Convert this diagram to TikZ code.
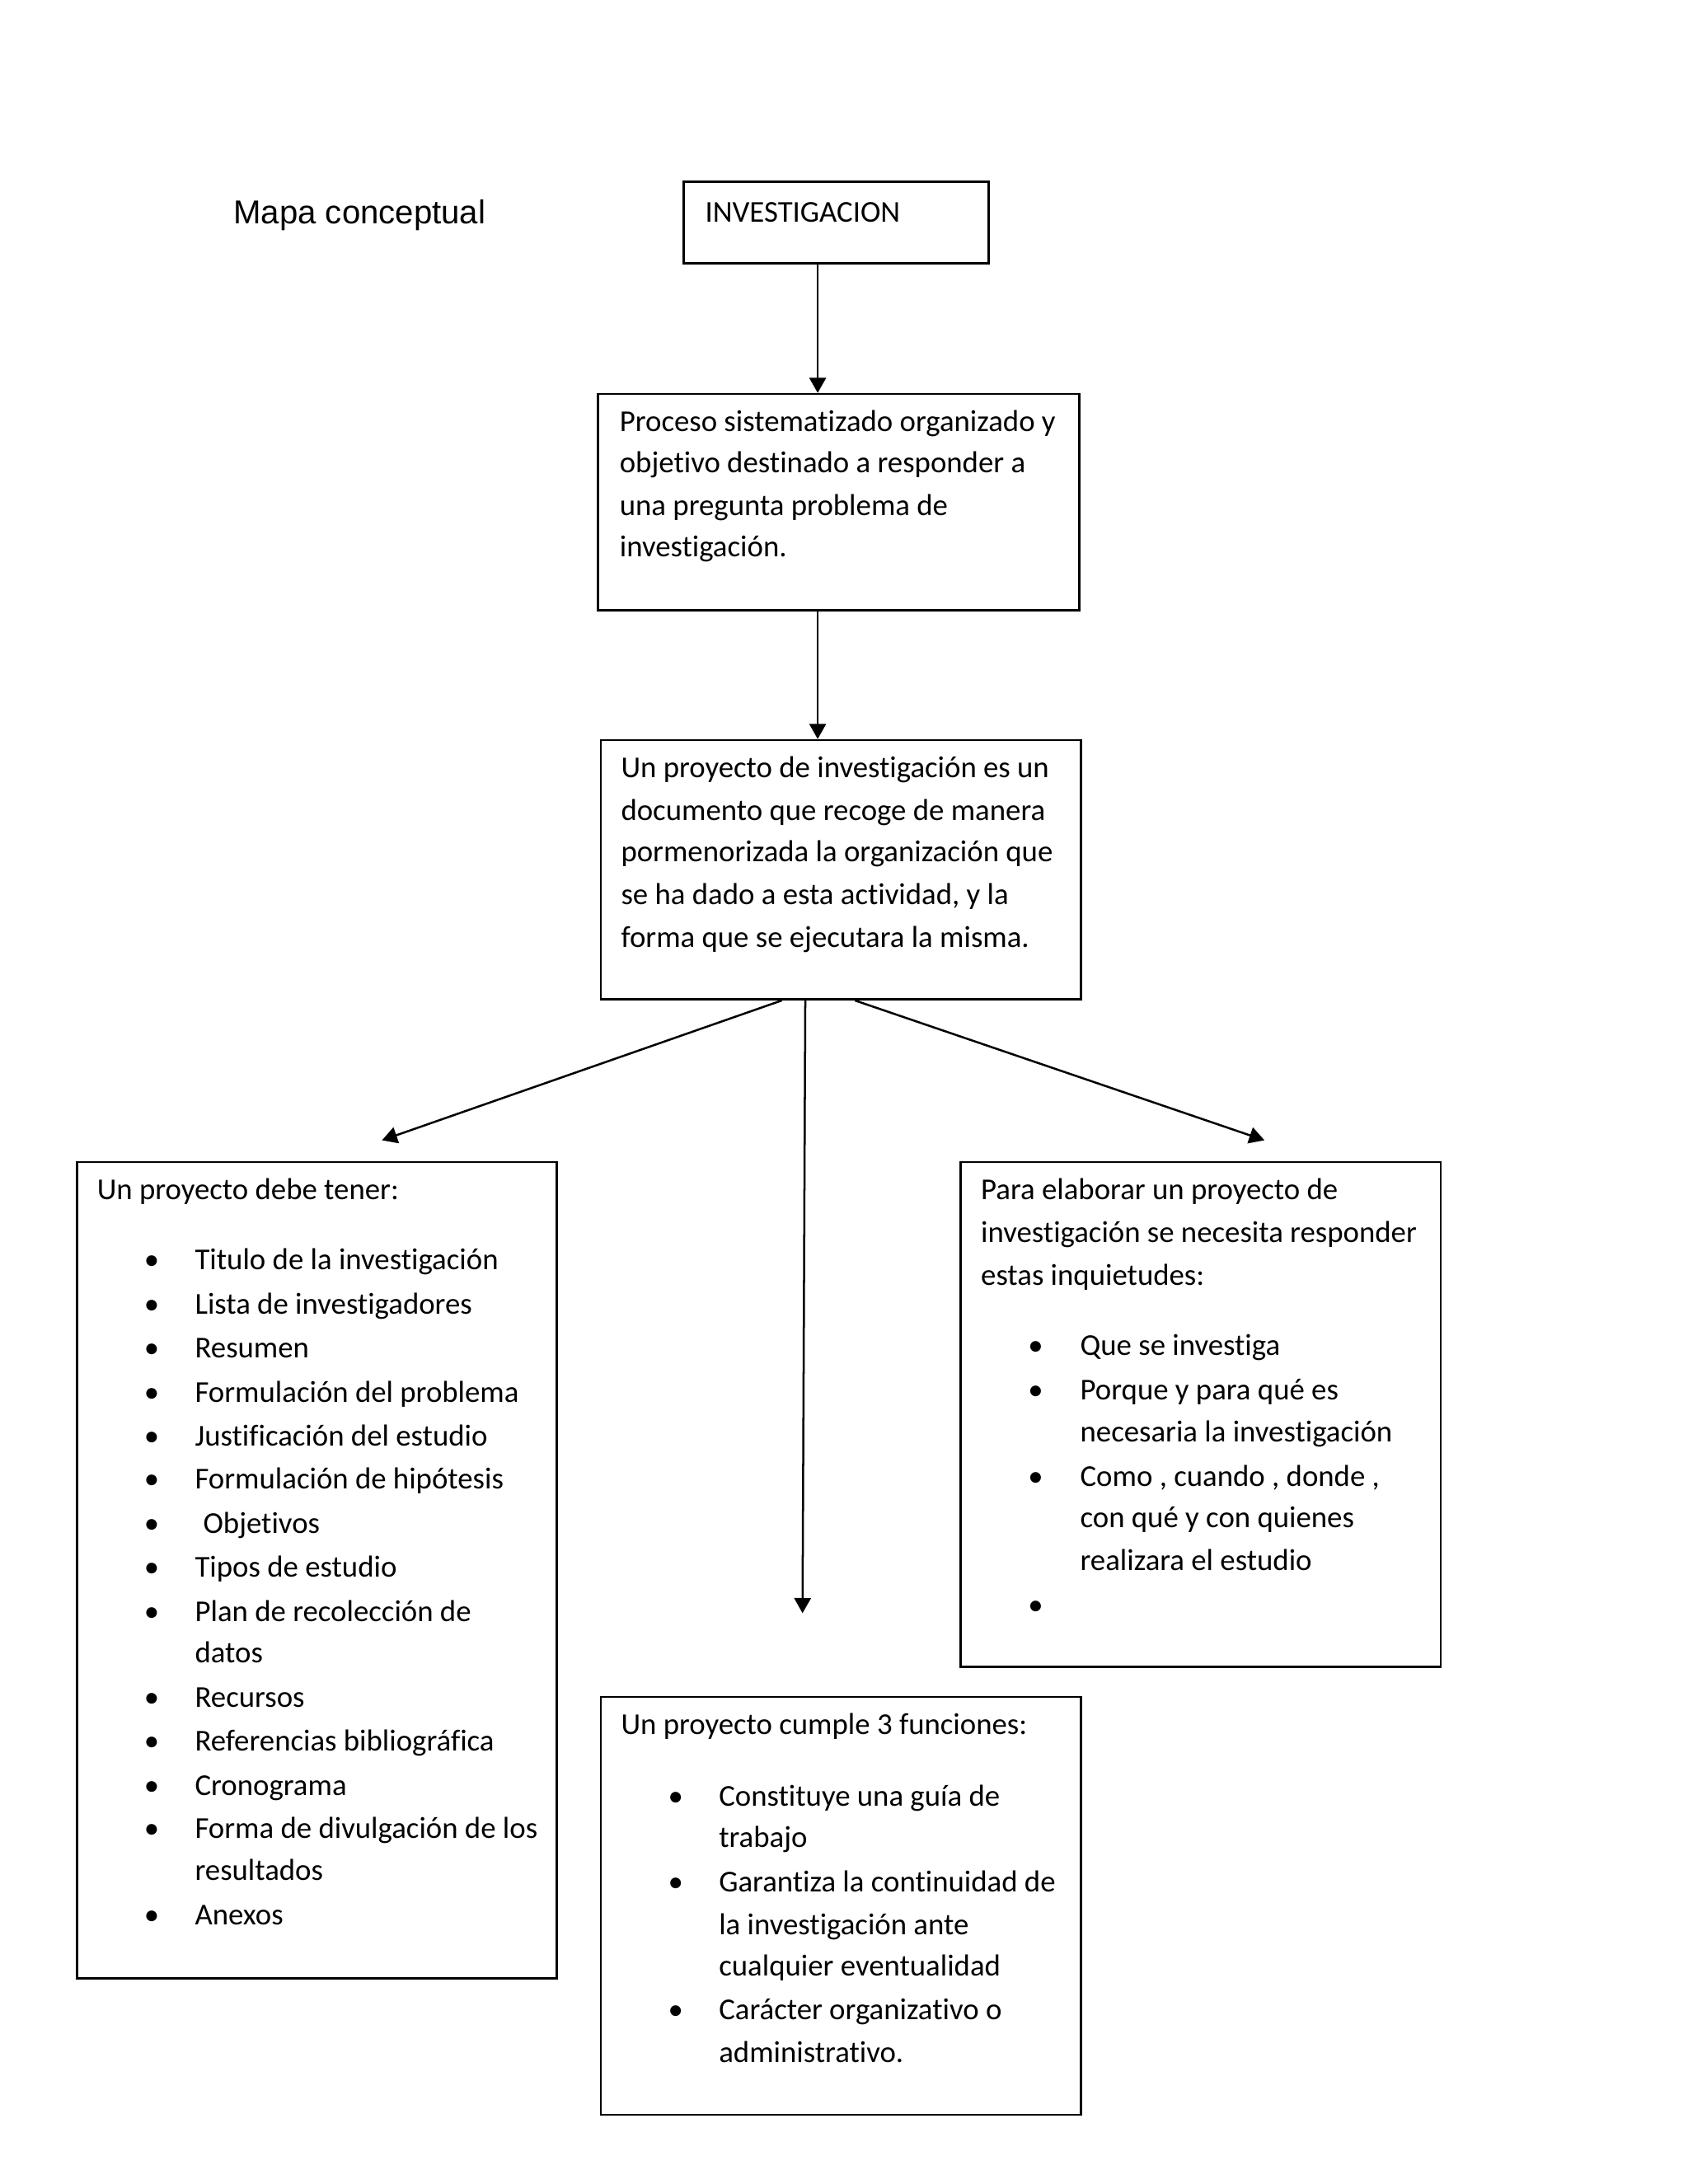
\documentclass[tikz,border=0pt]{standalone}
\usepackage{fontspec}
\setmainfont{Carlito}[Ligatures=NoCommon]
\newfontfamily\arialfont{Liberation Sans}
\usetikzlibrary{arrows.meta}
\begin{document}
\begin{tikzpicture}[x=0.5pt,y=-0.5pt,
  box/.style={draw, line width=0.8pt, inner sep=0pt, anchor=north west},
  txt/.style={anchor=base west, inner sep=0pt, font=\fontsize{11}{13}\selectfont},
  bul/.style={anchor=base, inner sep=0pt, font=\fontsize{11}{13}\selectfont},
  conn/.style={line width=0.75pt, -{Triangle[length=5.5pt,width=6pt]}}]
\useasboundingbox (0,0) rectangle (1224,1584);
\fill[white] (0,0) rectangle (1224,1584);

% title
\node (title) [anchor=base west, inner sep=0pt, font=\arialfont\fontsize{12}{14}\selectfont] at (169,162) {Mapa conceptual};

% boxes
\node (inv) [box, minimum width=110.5pt, minimum height=29.5pt] at (495,131) {};
\node (proc) [box, minimum width=174.5pt, minimum height=78.5pt] at (433,285) {};
\node (und) [box, minimum width=174pt, minimum height=94pt] at (435,536) {};
\node (left) [box, minimum width=174pt, minimum height=296pt] at (55,842) {};
\node (right) [box, minimum width=174pt, minimum height=183pt] at (696,842) {};
\node (bot) [box, minimum width=174pt, minimum height=151.5pt] at (435,1230) {};

% texts
\node (tinv) [txt] at (511,161) {INVESTIGACION};
\foreach \t/\y [count=\i] in {Proceso sistematizado organizado y/313, objetivo destinado a responder a/343, una pregunta problema de/374, investigación./404}
  \node (tp\i) [txt] at (449,\y) {\t};
\foreach \t/\y [count=\i] in {Un proyecto de investigación es un/564, documento que recoge de manera/595, pormenorizada la organización que/625, {se ha dado a esta actividad, y la}/656, forma que se ejecutara la misma./687}
  \node (tu\i) [txt] at (450,\y) {\t};

% left box
\node (lh) [txt] at (70,870) {Un proyecto debe tener:};
\foreach \t/\y [count=\i] in {Titulo de la investigación/921, Lista de investigadores/953, Resumen/985, Formulación del problema/1017, Justificación del estudio/1049, Formulación de hipótesis/1080, Tipos de estudio/1144, Plan de recolección de/1176, datos/1206, Recursos/1238, Referencias bibliográfica/1270, Cronograma/1302, Forma de divulgación de los/1333, resultados/1364, Anexos/1396}
  \node (ll\i) [txt] at (141,\y) {\t};
\node (lobj) [txt] at (147,1112) {Objetivos};
\foreach \y [count=\i] in {921,953,985,1017,1049,1080,1112,1144,1176,1238,1270,1302,1333,1396}
  \node (lb\i) [bul] at (110,\y) {•};

% right box
\foreach \t/\y [count=\i] in {Para elaborar un proyecto de/870, investigación se necesita responder/901, estas inquietudes:/932}
  \node (rh\i) [txt] at (711,\y) {\t};
\foreach \t/\y [count=\i] in {Que se investiga/983, Porque y para qué es/1015, necesaria la investigación/1046, {Como , cuando , donde ,}/1078, con qué y con quienes/1108, realizara el estudio/1139}
  \node (rl\i) [txt] at (783,\y) {\t};
\foreach \y [count=\i] in {983,1015,1078,1171}
  \node (rb\i) [bul] at (751,\y) {•};

% bottom box
\node (bh) [txt] at (450,1258) {Un proyecto cumple 3 funciones:};
\foreach \t/\y [count=\i] in {Constituye una guía de/1310, trabajo/1340, Garantiza la continuidad de/1372, la investigación ante/1403, cualquier eventualidad/1433, Carácter organizativo o/1465, administrativo./1496}
  \node (bl\i) [txt] at (521,\y) {\t};
\foreach \y [count=\i] in {1310,1372,1465}
  \node (bb\i) [bul] at (490,\y) {•};

% free ends
\coordinate (eL) at (277,827);
\coordinate (eM) at (582,1170);
\coordinate (eR) at (917,827);

% connectors
\draw[conn] ([xshift=49pt]inv.south west) -- ([xshift=80pt]proc.north west);
\draw[conn] ([xshift=80pt]proc.south west) -- ([xshift=79pt]und.north west);
\draw[conn] ([xshift=66pt]und.south west) -- (eL);
\draw[conn] ([xshift=74.5pt]und.south west) -- (eM);
\draw[conn] ([xshift=92.5pt]und.south west) -- (eR);
\end{tikzpicture}
\end{document}
